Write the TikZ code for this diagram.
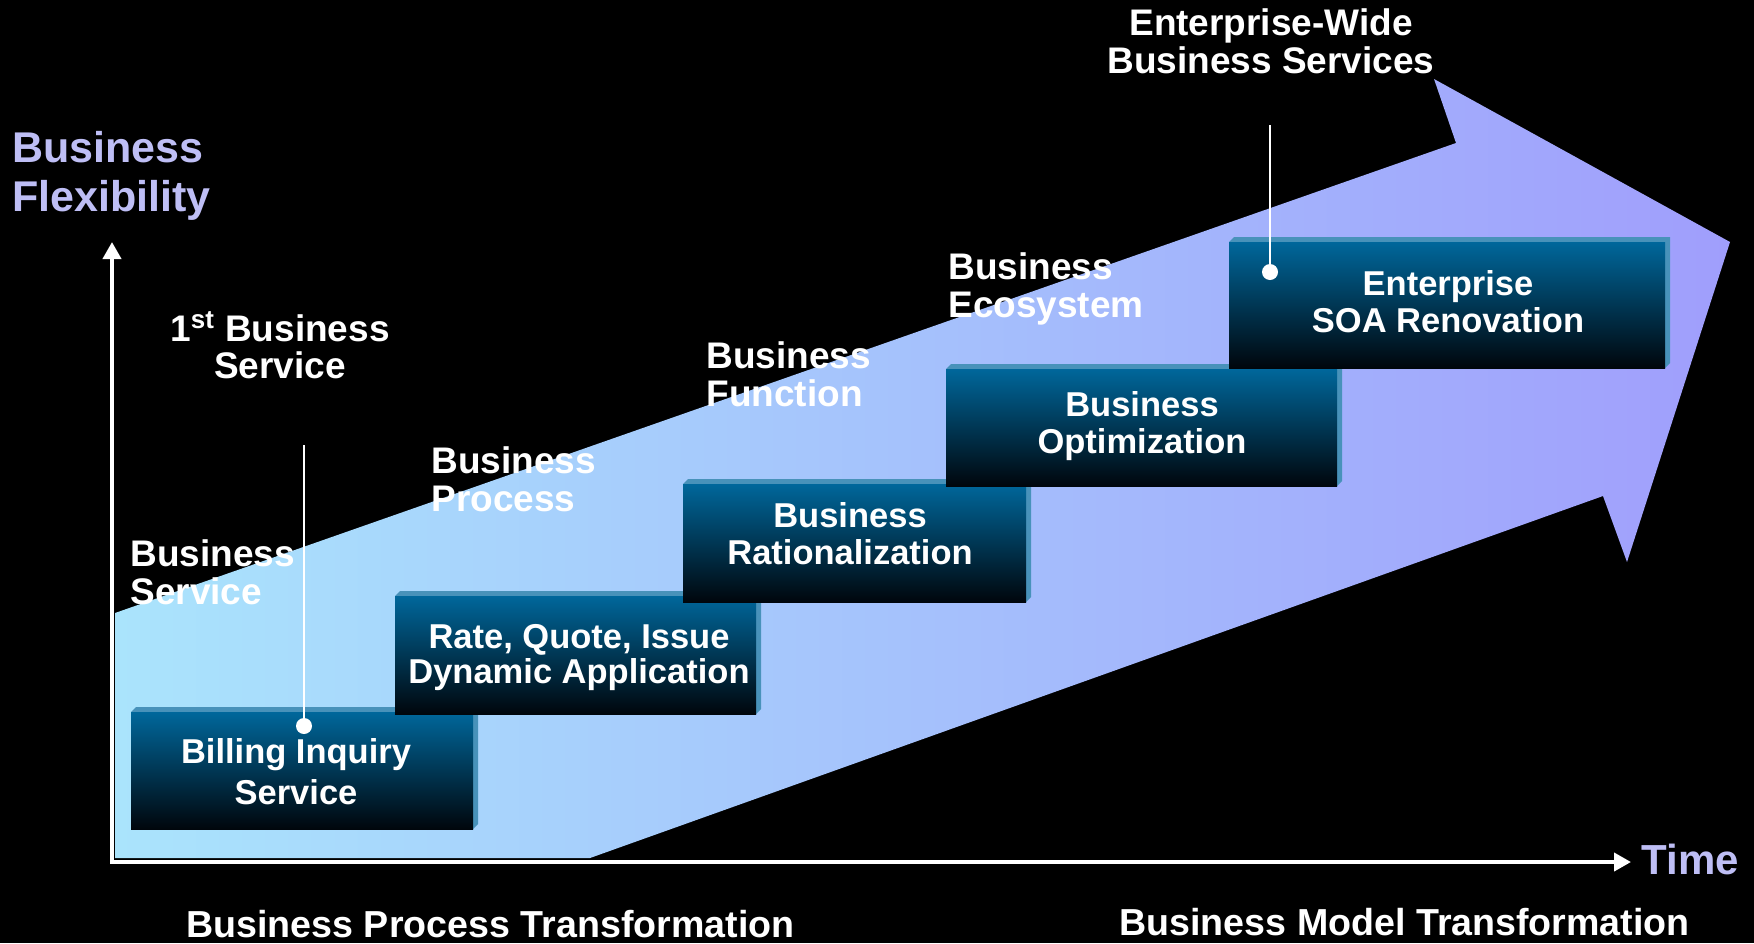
\documentclass[tikz,border=0pt]{standalone}
\usepackage{fontspec}
\setmainfont{Liberation Sans}
\usetikzlibrary{arrows.meta}
\definecolor{lav}{RGB}{190,190,245}
\definecolor{arrowL}{RGB}{170,228,252}
\definecolor{arrowR}{RGB}{160,158,252}
\definecolor{boxtop}{RGB}{0,103,155}
\definecolor{boxmid}{RGB}{0,72,108}
\definecolor{boxbot}{RGB}{0,6,12}
\definecolor{boxedge}{RGB}{72,146,186}
\newcommand{\mytab}[2]{\begin{tabular}[t]{@{}#1@{}}#2\end{tabular}}
\newcommand{\drawblock}[4]{%
  \fill[boxedge] (#1,#2) -- (#1+5,#2-5) -- (#3+5,#2-5) -- (#3+5,#4-5) -- (#3,#4) -- (#3,#2) -- cycle;
  \shade[top color=boxtop, middle color=boxmid, bottom color=boxbot] (#1,#2) rectangle (#3,#4);}
\begin{document}
\begin{tikzpicture}[x=0.5pt,y=-0.5pt,
  lbl/.style={text=white,inner sep=0pt,anchor=base west,font=\fontsize{18.5}{19}\selectfont\bfseries},
  clbl/.style={lbl,anchor=base},
  botlbl/.style={lbl,font=\fontsize{18.8}{19}\selectfont\bfseries},
  boxtxt/.style={text=white,inner sep=0pt,anchor=base},
  axlbl/.style={text=lav,inner sep=0pt,anchor=base west,font=\fontsize{21.5}{24.5}\selectfont\bfseries},
  axisline/.style={draw=white,line width=2pt,{Triangle[length=8.5pt,width=9pt]}-{Triangle[length=8.5pt,width=9pt]}},
  leader/.style={draw=white,line width=1pt},
  dotmark/.style={circle,fill=white,inner sep=0pt,minimum size=8pt}]
% background
\fill[black] (0,0) rectangle (1754,943);
\useasboundingbox (0,0) rectangle (1754,943);
% big arrow
\path[left color=arrowL,right color=arrowR]
  (115,858) -- (115,613) -- (1456,143) -- (1434,79) -- (1730,242)
  -- (1627,562) -- (1603,496) -- (590,858) -- cycle;
% axes
\coordinate (O) at (112,862);
\coordinate (ytip) at (112,242);
\coordinate (xtip) at (1631,862);
\draw[axisline] (ytip) -- (O) -- (xtip);
% blocks
\drawblock{131}{712}{473}{829}
\drawblock{395}{596}{756}{714}
\drawblock{683}{484}{1026}{602}
\drawblock{946}{369}{1337}{486}
\drawblock{1229}{242}{1665}{368}
% block texts
\node[boxtxt,font=\fontsize{17.25}{20.5}\selectfont\bfseries] (billing) at (296,763) {\mytab{c}{Billing Inquiry\\Service}};
\node[boxtxt,font=\fontsize{17.25}{17}\selectfont\bfseries] (rate) at (579,648) {\mytab{c}{Rate, Quote, Issue\\Dynamic Application}};
\node[boxtxt,font=\fontsize{17.25}{18.5}\selectfont\bfseries] (ration) at (850,527) {\mytab{c}{Business\\Rationalization}};
\node[boxtxt,font=\fontsize{17.25}{18.5}\selectfont\bfseries] (optim) at (1142,416) {\mytab{c}{Business\\Optimization}};
\node[boxtxt,font=\fontsize{17.25}{18.5}\selectfont\bfseries] (soa) at (1448,295) {\mytab{c}{Enterprise\\SOA Renovation}};
% stage labels
\node[lbl] (bservice) at (130,566) {\mytab{l}{Business\\Service}};
\node[lbl] (bprocess) at (431,473) {\mytab{l}{Business\\Process}};
\node[lbl] (bfunction) at (706,368) {\mytab{l}{Business\\Function}};
\node[lbl] (becosys) at (948,279) {\mytab{l}{Business\\Ecosystem}};
\node[clbl,font=\fontsize{18.5}{18.5}\selectfont\bfseries] (first) at (280,341) {\mytab{c}{1\textsuperscript{st} Business\\Service}};
\node[clbl] (ewide) at (1271,35) {\mytab{c}{Enterprise-Wide\\Business Services}};
% leaders
\node[dotmark] (dot1) at (304,726) {};
\coordinate (lead1) at (304,445);
\draw[leader] (lead1) -- (dot1);
\node[dotmark] (dot2) at (1270,272) {};
\coordinate (lead2) at (1270,125);
\draw[leader] (lead2) -- (dot2);
% axis labels
\node[axlbl] (flex) at (12,162) {\mytab{l}{Business\\Flexibility}};
\node[axlbl,font=\fontsize{21}{24.5}\selectfont\bfseries] (time) at (1641,874) {Time};
% bottom labels
\node[botlbl] (bpt) at (186,937) {Business Process Transformation};
\node[botlbl] (bmt) at (1119,935) {Business Model Transformation};
\end{tikzpicture}
\end{document}
